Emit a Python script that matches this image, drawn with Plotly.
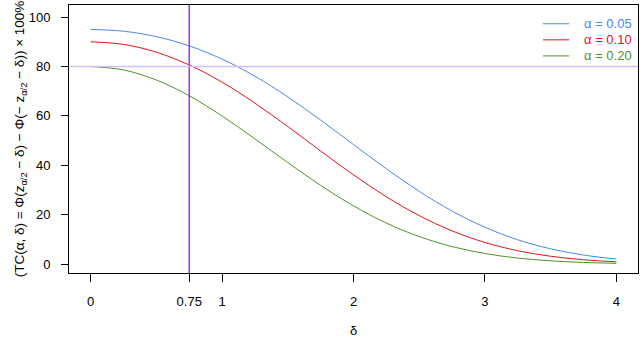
import plotly.graph_objects as go

delta = [0, 0.25, 0.5, 0.75, 1.0, 1.25, 1.5, 1.75, 2.0, 2.25, 2.5, 2.75, 3.0, 3.25, 3.5, 3.75, 4.0]
tc_005 = [95.0, 94.28, 92.09, 88.35, 82.99, 76.05, 67.70, 58.31, 48.40, 38.59, 29.46, 21.48, 14.92, 9.85, 6.18, 3.67, 2.07]
tc_010 = [90.0, 88.95, 85.79, 80.63, 73.65, 65.17, 55.68, 45.78, 36.12, 27.25, 19.63, 13.46, 8.77, 5.43, 3.18, 1.77, 0.93]
tc_020 = [80.0, 78.61, 74.54, 68.14, 59.96, 50.69, 41.09, 31.85, 23.57, 16.62, 11.15, 7.10, 4.29, 2.45, 1.33, 0.68, 0.33]
labels = ["α = 0.05", "α = 0.10", "α = 0.20"]
colors = ["#4a86ee", "#e3141c", "#4f922c"]

x_ticks = [0, 0.75, 1, 2, 3, 4]
y_ticks = [0, 20, 40, 60, 80, 100]
ref_delta = 0.75
ref_level = 80

font = "Liberation Sans, Arial, sans-serif"

fig = go.Figure()
for ys, name, col in zip([tc_005, tc_010, tc_020], labels, colors):
    fig.add_trace(go.Scatter(x=delta, y=ys, mode="lines", name=name,
                             line=dict(color=col, width=1, shape="spline")))

fig.add_vline(x=ref_delta, line=dict(color="#9b30ff", width=1.5))
fig.add_hline(y=ref_level, line=dict(color="#d6bff5", width=1.5))

# legend drawn by hand, R style (coloured text, no box)
for i, (name, col) in enumerate(zip(labels, colors)):
    yy = 0.93 - i * 0.06
    fig.add_shape(type="line", xref="paper", yref="paper",
                  x0=0.833, x1=0.879, y0=yy, y1=yy,
                  line=dict(color=col, width=1))
    fig.add_annotation(x=0.993, y=yy, xref="paper", yref="paper", text=name,
                       showarrow=False, xanchor="right", yanchor="middle",
                       font=dict(color=col, size=13, family=font))

fig.add_annotation(
    x=-0.104, y=0.5, xref="paper", yref="paper", textangle=-90,
    text="(TC(α, δ) = Φ(z<sub>α/2</sub> − δ) − Φ(− z<sub>α/2</sub> − δ)) × 100%",
    showarrow=False, font=dict(size=13.5, family=font, color="black"))

fig.add_annotation(x=0.5, y=-0.215, xref="paper", yref="paper", text="δ",
                   showarrow=False, yanchor="middle",
                   font=dict(size=13, family=font, color="black"))

fig.update_xaxes(range=[-0.165, 4.165], tickvals=x_ticks,
                 ticktext=[str(v) for v in x_ticks],
                 ticks="outside", ticklen=8, tickcolor="black",
                 showgrid=False, zeroline=False, showline=True,
                 linecolor="black", mirror=True, ticklabelstandoff=8,
                 automargin=False)
fig.update_yaxes(range=[-3.6, 104.9], tickvals=y_ticks,
                 ticks="outside", ticklen=7, tickcolor="black",
                 showgrid=False, zeroline=False, showline=True,
                 linecolor="black", mirror=True, ticklabelstandoff=8,
                 automargin=False)

fig.update_layout(width=640, height=338, showlegend=False,
                  margin=dict(l=69, r=2, t=5, b=65),
                  plot_bgcolor="white", paper_bgcolor="white",
                  font=dict(family=font, size=13, color="black"))

# page body has a default margin; drop it so the figure fills the window
fig.write_html("out.html", config={"displayModeBar": False},
               post_script="document.body.style.margin='0';document.body.style.overflow='hidden';")
